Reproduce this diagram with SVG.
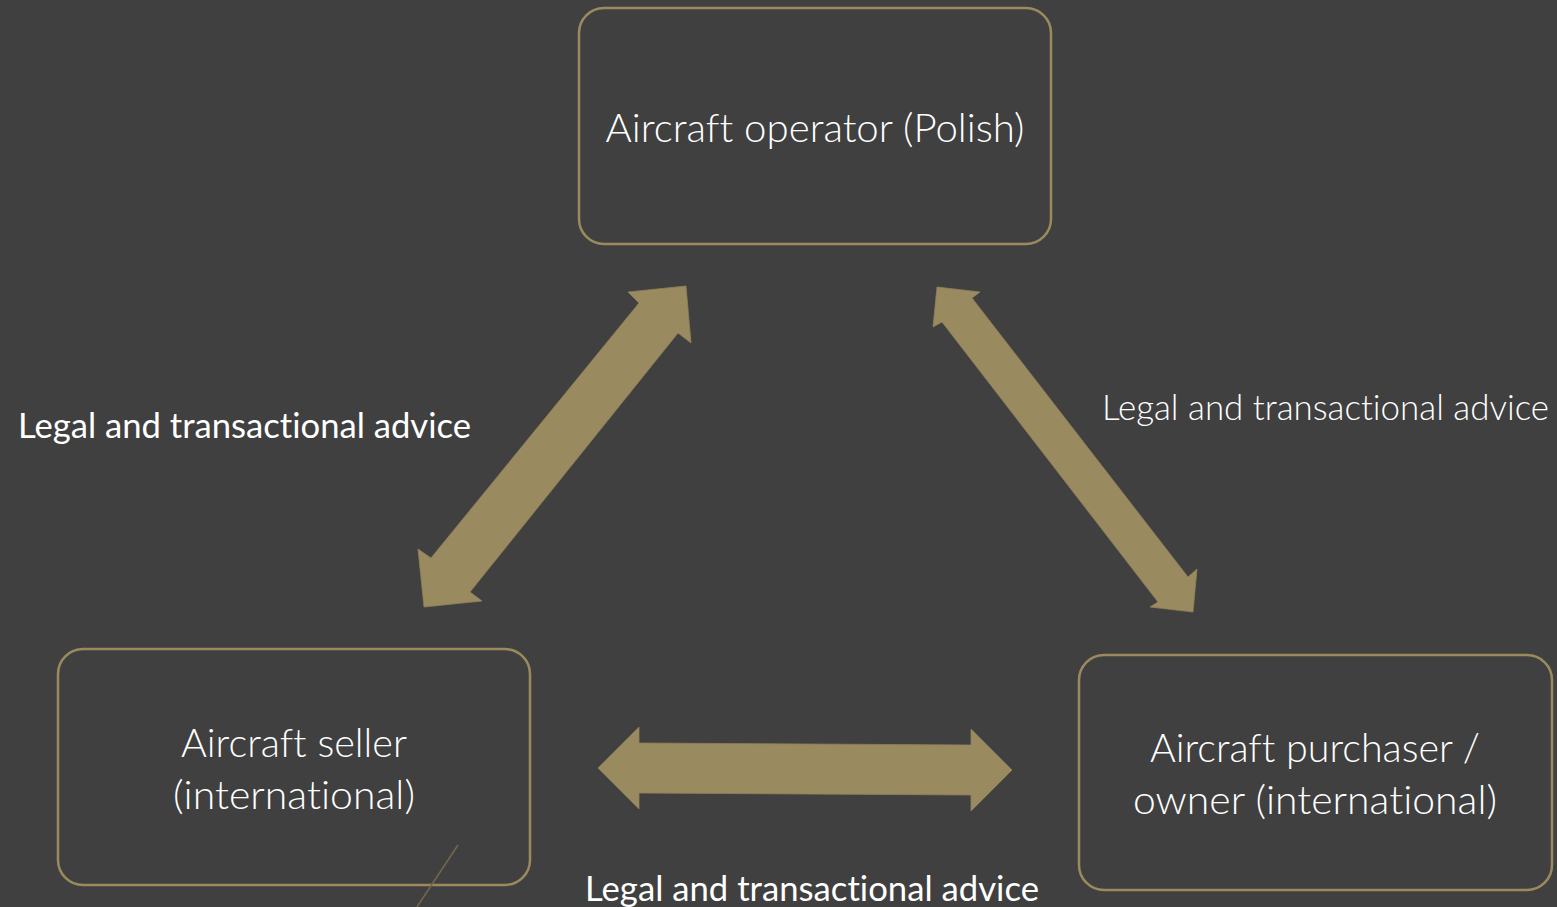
<svg xmlns="http://www.w3.org/2000/svg" width="1557" height="907" viewBox="0 0 1557 907">
<style>
.box{fill:#404040;stroke:#9a8a5e;stroke-width:2.5}
.arrow{fill:#9a8a5f;stroke:#8f8058;stroke-width:0.8}
.t{font-family:Lato,"Open Sans","Liberation Sans",sans-serif;fill:#ffffff;font-variant-ligatures:none}
.light{font-weight:300;font-size:40px}
.lbl{font-size:35px}
.lbll{font-weight:300;font-size:35px}
</style>
<rect width="1557" height="907" fill="#404040"/>
<g id="connectors">
<polygon class="arrow" points="686,286 691,343 678,333 470,592 482,601 424,607 418,549 431,558 639,303 628,292"/>
<polygon class="arrow" points="937,287 980,292 972,298 1188,577 1197,569 1193,612 1150,607 1158,602 942,322 933,327"/>
<polygon class="arrow" points="598,768 639,727 639,743 971,745 971,729 1012,770 971,811 971,795 639,793 639,809"/>
</g>
<g id="node-operator">
<rect class="box" x="579" y="8" width="472" height="236" rx="25"/>
<text class="t light" x="815" y="142" text-anchor="middle" textLength="419" lengthAdjust="spacingAndGlyphs">Aircraft operator (Polish)</text>
</g>
<g id="node-seller">
<rect class="box" x="58" y="649" width="472" height="236" rx="25"/>
<text class="t light" x="294" y="757" text-anchor="middle" textLength="226" lengthAdjust="spacingAndGlyphs">Aircraft seller</text>
<text class="t light" x="294" y="809" text-anchor="middle" textLength="242" lengthAdjust="spacingAndGlyphs">(international)</text>
</g>
<g id="node-purchaser">
<rect class="box" x="1079" y="655" width="473" height="235" rx="25"/>
<text class="t light" x="1315" y="762" text-anchor="middle" textLength="330" lengthAdjust="spacingAndGlyphs">Aircraft purchaser /</text>
<text class="t light" x="1315" y="814" text-anchor="middle" textLength="364" lengthAdjust="spacingAndGlyphs">owner (international)</text>
</g>
<g id="labels">
<text class="t lbl" x="18" y="438" textLength="453" lengthAdjust="spacingAndGlyphs">Legal and transactional advice</text>
<text class="t lbll" x="1102" y="420" textLength="447" lengthAdjust="spacingAndGlyphs">Legal and transactional advice</text>
<text class="t lbl" x="585" y="901" textLength="454" lengthAdjust="spacingAndGlyphs">Legal and transactional advice</text>
</g>
<line x1="458" y1="845" x2="417" y2="907" stroke="#75664c" stroke-width="1.5"/>
</svg>
